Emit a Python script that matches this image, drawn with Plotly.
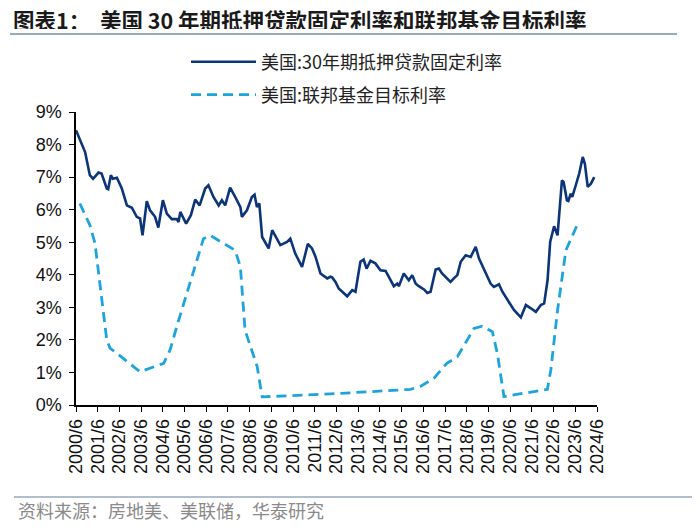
import plotly.graph_objects as go

# ---------------- data ----------------
mortgage_dates = [
    "2000-06-01", "2000-08-05", "2000-11-01", "2001-01-20", "2001-03-15", "2001-06-15",
    "2001-08-05", "2001-11-01", "2001-11-25", "2002-01-08", "2002-02-10", "2002-04-20",
    "2002-07-12", "2002-10-05", "2002-12-28", "2003-03-20", "2003-05-15", "2003-06-25",
    "2003-09-05", "2003-10-30", "2004-01-22", "2004-03-17", "2004-06-02", "2004-08-07",
    "2004-10-30", "2005-01-22", "2005-02-20", "2005-03-22", "2005-06-28", "2005-09-16",
    "2005-11-28", "2006-02-10", "2006-05-15", "2006-07-08", "2006-10-01", "2006-12-28",
    "2007-02-20", "2007-04-16", "2007-07-08", "2007-10-01", "2007-12-28", "2008-01-22",
    "2008-04-16", "2008-07-08", "2008-08-22", "2008-10-01", "2008-11-10", "2008-12-28",
    "2009-04-16", "2009-06-15", "2009-10-30", "2010-02-20", "2010-04-16", "2010-07-08",
    "2010-10-30", "2011-02-05", "2011-04-16", "2011-06-15", "2011-09-05", "2011-12-28",
    "2012-02-20", "2012-03-20", "2012-05-15", "2012-07-08", "2012-11-28", "2013-02-20",
    "2013-04-16", "2013-07-08", "2013-09-01", "2013-10-20", "2013-12-25", "2014-03-17",
    "2014-06-10", "2014-09-05", "2014-10-30", "2015-01-22", "2015-03-20", "2015-04-16",
    "2015-07-08", "2015-10-01", "2015-11-28", "2016-01-22", "2016-03-17", "2016-06-12",
    "2016-08-07", "2016-10-01", "2016-12-25", "2017-02-17", "2017-04-12", "2017-06-10",
    "2017-09-01", "2017-10-27", "2017-12-25", "2018-02-20", "2018-05-15", "2018-08-07",
    "2018-10-30", "2018-12-25", "2019-03-17", "2019-07-08", "2019-09-01", "2019-11-25",
    "2020-01-22", "2020-04-16", "2020-08-07", "2020-11-28", "2021-02-20", "2021-05-15",
    "2021-08-07", "2021-10-30", "2021-12-25", "2022-02-20", "2022-04-05", "2022-06-10",
    "2022-08-07", "2022-10-20", "2022-11-17", "2023-01-12", "2023-02-05", "2023-03-17",
    "2023-04-12", "2023-06-10", "2023-08-07", "2023-10-05", "2023-11-10", "2023-12-28",
    "2024-02-20", "2024-04-16",
]
mortgage_rate = [
    8.44, 8.13, 7.77, 7.06, 6.95, 7.14,
    7.11, 6.65, 6.63, 7.06, 6.95, 6.98,
    6.65, 6.13, 6.06, 5.78, 5.73, 5.21,
    6.26, 5.98, 5.78, 5.45, 6.29, 5.88,
    5.71, 5.71, 5.62, 5.93, 5.57, 5.83,
    6.31, 6.13, 6.65, 6.75, 6.39, 6.13,
    6.29, 6.13, 6.68, 6.39, 6.08, 5.78,
    5.98, 6.39, 6.46, 6.08, 6.19, 5.16,
    4.81, 5.37, 4.91, 5.01, 5.11, 4.65,
    4.24, 4.95, 4.81, 4.55, 4.04, 3.89,
    3.94, 3.92, 3.78, 3.58, 3.34, 3.53,
    3.48, 4.40, 4.47, 4.19, 4.43, 4.35,
    4.14, 4.12, 3.94, 3.65, 3.73, 3.65,
    4.04, 3.83, 3.99, 3.73, 3.65, 3.55,
    3.44, 3.48, 4.16, 4.19, 4.04, 3.94,
    3.78, 3.89, 3.99, 4.40, 4.60, 4.55,
    4.86, 4.50, 4.19, 3.73, 3.63, 3.71,
    3.48, 3.22, 2.91, 2.69, 3.07, 2.97,
    2.86, 3.07, 3.12, 3.83, 5.01, 5.49,
    5.21, 6.90, 6.85, 6.29, 6.27, 6.49,
    6.39, 6.75, 7.11, 7.62, 7.41, 6.70,
    6.80, 7.00,
]

fed_dates = [
    "2000-08-05", "2001-01-22", "2001-04-16", "2001-11-01", "2001-12-25", "2003-05-15",
    "2004-06-15", "2004-10-01", "2005-02-05", "2006-04-16", "2006-08-07", "2007-10-01",
    "2007-12-28", "2008-01-22", "2008-03-15", "2008-10-05", "2008-12-28", "2012-02-20",
    "2015-10-30", "2016-04-20", "2016-11-25", "2017-07-01", "2017-12-25", "2018-10-01",
    "2019-02-17", "2019-08-07", "2019-10-30", "2020-02-17", "2022-02-17", "2022-04-16",
    "2022-08-07", "2022-12-25", "2023-07-01",
]
fed_rate = [
    6.19, 5.52, 4.97, 1.99, 1.75, 1.02,
    1.28, 1.69, 2.50, 5.11, 5.21, 4.75,
    4.24, 3.63, 2.30, 1.18, 0.25, 0.34,
    0.48, 0.58, 0.82, 1.28, 1.48, 2.35,
    2.42, 2.25, 1.58, 0.26, 0.48, 1.07,
    2.91, 4.75, 5.52,
]

x_tick_labels = [f"{y}/6" for y in range(2000, 2025)]
y_tick_values = list(range(0, 10))
y_tick_labels = [f"{v}%" for v in y_tick_values]

series_names = ["美国:30年期抵押贷款固定利率", "美国:联邦基金目标利率"]
title_text = "图表1：  美国 30 年期抵押贷款固定利率和联邦基金目标利率"
source_text = "资料来源：房地美、美联储，华泰研究"

# ---------------- figure ----------------
x_tick_vals = [f"{lab.split('/')[0]}-{int(lab.split('/')[1]):02d}-01" for lab in x_tick_labels]

# The page body adds an 8px margin, so the figure is laid out 8px smaller and
# every reference pixel position is shifted by OFF.
OFF = 8
W, H = 700 - OFF, 529 - OFF
CJK = "Noto Sans CJK SC"

# plot area in reference pixels
RL, RR, RT, RB = 76, 597, 112, 405
PL, PR, PT, PB = RL - OFF, RR - OFF, RT - OFF, RB - OFF


def cx(px):  # reference px -> container fraction
    return (px - OFF) / W


def cy(py):
    return 1 - (py - OFF) / H


def px_x(px):  # reference px -> paper fraction
    return (px - OFF - PL) / (PR - PL)


def px_y(py):
    return (PB - (py - OFF)) / (PB - PT)


fig = go.Figure()
fig.add_trace(go.Scatter(
    x=mortgage_dates, y=mortgage_rate, mode="lines", name=series_names[0],
    line=dict(color="#0B3578", width=2.6), legend="legend",
))
fig.add_trace(go.Scatter(
    x=fed_dates, y=fed_rate, mode="lines", name=series_names[1],
    line=dict(color="#1FA3DD", width=2.8, dash="10px,6px"), legend="legend2",
))

axis_font = dict(family="Liberation Sans, Arial", size=18, color="#111111")
legend_common = dict(
    xref="container", yref="container", xanchor="left", yanchor="middle",
    font=dict(family=CJK, size=18, color="#222222"), bgcolor="rgba(0,0,0,0)",
    itemwidth=65,
)
fig.update_layout(
    width=W, height=H,
    margin=dict(l=PL, r=W - PR, t=PT, b=H - PB, autoexpand=False),
    plot_bgcolor="white", paper_bgcolor="white",
    xaxis=dict(
        type="date", range=[x_tick_vals[0], x_tick_vals[-1]],
        tickmode="array", tickvals=x_tick_vals, ticktext=x_tick_labels,
        tickangle=-90, ticks="outside", ticklen=5, tickcolor="#000000", tickwidth=1.2,
        showline=True, linecolor="#000000", linewidth=1.5, automargin=False,
        showgrid=False, zeroline=False, tickfont=axis_font,
    ),
    yaxis=dict(
        range=[0, 9], tickmode="array", tickvals=y_tick_values, ticktext=y_tick_labels,
        ticks="outside", ticklen=5, tickcolor="#000000", tickwidth=1.2,
        showline=True, linecolor="#000000", linewidth=1.5, automargin=False,
        showgrid=False, zeroline=False, tickfont=axis_font, ticklabelstandoff=4,
    ),
    legend=dict(x=cx(186), y=cy(62), **legend_common),
    legend2=dict(x=cx(186), y=cy(95), **legend_common),
    showlegend=True,
)

fig.add_annotation(
    x=px_x(11), y=px_y(19), xref="paper", yref="paper", xanchor="left", yanchor="middle",
    text=f"<b>{title_text}</b>", showarrow=False, height=20, valign="middle",
    font=dict(family=CJK, size=21.5, color="#1a1a1a"),
)
fig.add_annotation(
    x=px_x(16), y=px_y(510), xref="paper", yref="paper", xanchor="left", yanchor="middle",
    text=source_text, showarrow=False,
    font=dict(family=CJK, size=18, color="#8a8a8a"),
)
rule = dict(color="#97AABD", width=2)
fig.add_shape(type="line", xref="paper", yref="paper",
              x0=px_x(10), x1=px_x(677), y0=px_y(34), y1=px_y(34), line=rule)
fig.add_shape(type="line", xref="paper", yref="paper",
              x0=px_x(697), x1=px_x(700), y0=px_y(34), y1=px_y(34), line=rule)
fig.add_shape(type="line", xref="paper", yref="paper",
              x0=px_x(14), x1=px_x(700), y0=px_y(497), y1=px_y(497),
              line=dict(color="#97AABD", width=1.5))

fig.write_html("out.html")
